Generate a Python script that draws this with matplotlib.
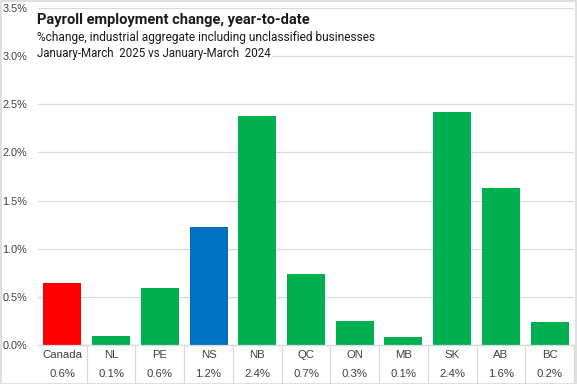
import matplotlib
matplotlib.use("Agg")
import matplotlib.pyplot as plt
from matplotlib.patches import Rectangle
from matplotlib.lines import Line2D

categories = ["Canada", "NL", "PE", "NS", "NB", "QC", "ON", "MB", "SK", "AB", "BC"]
values = [0.64, 0.09, 0.59, 1.23, 2.38, 0.74, 0.25, 0.08, 2.42, 1.63, 0.24]
value_labels = ["0.6%", "0.1%", "0.6%", "1.2%", "2.4%", "0.7%", "0.3%", "0.1%", "2.4%", "1.6%", "0.2%"]
colors = ["#FF0000", "#00B050", "#00B050", "#0070C0", "#00B050", "#00B050",
          "#00B050", "#00B050", "#00B050", "#00B050", "#00B050"]
yticks = [0.0, 0.5, 1.0, 1.5, 2.0, 2.5, 3.0, 3.5]

W, H = 577, 384
fig = plt.figure(figsize=(W / 100, H / 100), dpi=100)
x0, x1, ytop, ybot = 38, 574, 8, 345
ax = fig.add_axes([x0 / W, 1 - ybot / H, (x1 - x0) / W, (ybot - ytop) / H])

n = len(categories)
xs = list(range(n))
ax.bar(xs, values, width=0.78, color=colors, zorder=2)
ax.set_xlim(-0.5, n - 0.5)
ax.set_ylim(0, 3.5)
ax.set_yticks(yticks)
ax.set_yticklabels([f"{t:.1f}%" for t in yticks], fontsize=7.8, color="#404040",
                   family="Liberation Sans")
for lab in ax.get_yticklabels():
    lab.set_horizontalalignment("left")
ax.tick_params(axis="y", length=0, pad=25.5)
ax.set_xticks([])
ax.grid(axis="y", color="#D9D9D9", linewidth=0.9, zorder=0)
ax.set_axisbelow(True)
for s in ["top", "right", "left"]:
    ax.spines[s].set_visible(False)
ax.spines["bottom"].set_color("#D9D9D9")
ax.spines["bottom"].set_linewidth(0.9)

# data table below
for i, (c, v) in enumerate(zip(categories, value_labels)):
    ax.text(i, -0.105, c, transform=ax.transData, ha="center", va="center",
            fontsize=8.2, color="#404040", family="Liberation Sans", clip_on=False)
    ax.text(i, -0.30, v, transform=ax.transData, ha="center", va="center",
            fontsize=8.2, color="#404040", family="Liberation Sans", clip_on=False)
for i in range(1, n + 1):
    ax.add_line(Line2D([i - 0.5, i - 0.5], [0, -0.40], color="#D9D9D9", lw=0.9,
                       clip_on=False))

# white box behind title
ax.add_patch(Rectangle((37 / W, 1 - 61 / H), (272 - 37) / W, (61 - 12) / H,
                       transform=fig.transFigure, facecolor="white", edgecolor="none",
                       zorder=3, clip_on=False))
fig.text(37 / W, 1 - 20 / H, "Payroll employment change, year-to-date",
         fontsize=10.5, fontweight="bold", family="Roboto", color="#1a1a1a",
         va="center", ha="left", zorder=4)
fig.text(37 / W, 1 - 37 / H, "%change, industrial aggregate including unclassified businesses",
         fontsize=8.6, family="Roboto", color="#1a1a1a", va="center", ha="left", zorder=4)
fig.text(37 / W, 1 - 53 / H, "January-March  2025 vs January-March  2024",
         fontsize=8.3, family="Roboto", color="#1a1a1a", va="center", ha="left", zorder=4)

# figure border
fig.add_artist(Rectangle((0.5 / W, 0.5 / H), (W - 1.5) / W, (H - 1.5) / H,
                         transform=fig.transFigure, facecolor="none",
                         edgecolor="#D9D9D9", lw=1.2))

fig.savefig("out.png", dpi=100)
